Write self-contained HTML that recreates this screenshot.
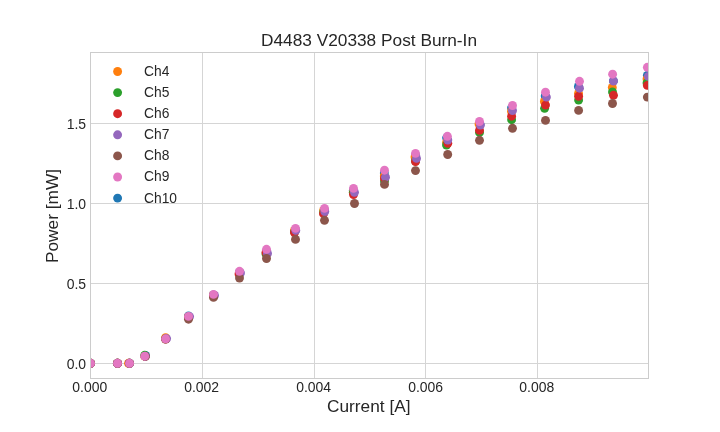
<!DOCTYPE html>
<html><head><meta charset="utf-8"><style>
html,body{margin:0;padding:0;background:#fff;width:720px;height:432px;overflow:hidden}
svg{display:block;will-change:transform}
text{font-family:"Liberation Sans",sans-serif;fill:#262626}
.t14{font-size:14.4px}
.t17{font-size:17.28px}
</style></head><body>
<svg width="720" height="432" viewBox="0 0 720 432">
<defs><clipPath id="c"><rect x="90.5" y="52.5" width="558" height="326"/></clipPath></defs>
<path d="M202.5 52.5V378.5M314.5 52.5V378.5M425.5 52.5V378.5M537.5 52.5V378.5M90.5 363.5H648.5M90.5 283.5H648.5M90.5 203.5H648.5M90.5 123.5H648.5" stroke="#d5d5d5" stroke-width="1" fill="none"/>
<g clip-path="url(#c)">
<g fill="#1f77b4"><circle cx="90.5" cy="363.3" r="4.45"/><circle cx="117.5" cy="363.3" r="4.45"/><circle cx="129.5" cy="363.3" r="4.45"/><circle cx="145.5" cy="355.5" r="4.45"/><circle cx="165.6" cy="338.6" r="4.45"/><circle cx="188.5" cy="316" r="4.45"/><circle cx="213.5" cy="295" r="4.45"/><circle cx="239.5" cy="272.5" r="4.45"/><circle cx="266.5" cy="251" r="4.45"/><circle cx="295.5" cy="230" r="4.45"/><circle cx="324.5" cy="210" r="4.45"/><circle cx="353.3" cy="190.4" r="4.45"/><circle cx="384.3" cy="173" r="4.45"/><circle cx="415.5" cy="155" r="4.45"/><circle cx="446.6" cy="137.8" r="4.45"/><circle cx="480" cy="124.2" r="4.45"/><circle cx="511.5" cy="108" r="4.45"/><circle cx="545.2" cy="96" r="4.45"/><circle cx="578.4" cy="86.5" r="4.45"/><circle cx="613.4" cy="80.9" r="4.45"/><circle cx="647.35" cy="75.5" r="4.45"/></g>
<g fill="#ff7f0e"><circle cx="90.5" cy="363.3" r="4.45"/><circle cx="117.5" cy="363.3" r="4.45"/><circle cx="128.5" cy="363.3" r="4.45"/><circle cx="144.7" cy="356.2" r="4.45"/><circle cx="165.6" cy="337.7" r="4.45"/><circle cx="188.5" cy="317" r="4.45"/><circle cx="213.5" cy="295.5" r="4.45"/><circle cx="239.5" cy="273" r="4.45"/><circle cx="266.5" cy="252" r="4.45"/><circle cx="294.5" cy="230.5" r="4.45"/><circle cx="323.6" cy="210.5" r="4.45"/><circle cx="353.3" cy="192" r="4.45"/><circle cx="384.3" cy="176" r="4.45"/><circle cx="415" cy="157" r="4.45"/><circle cx="446.6" cy="142.2" r="4.45"/><circle cx="479" cy="124" r="4.45"/><circle cx="511.5" cy="111.5" r="4.45"/><circle cx="544.4" cy="101.5" r="4.45"/><circle cx="578.5" cy="93.5" r="4.45"/><circle cx="612.3" cy="87.4" r="4.45"/><circle cx="647" cy="79" r="4.45"/></g>
<g fill="#2ca02c"><circle cx="90.5" cy="363.3" r="4.45"/><circle cx="117.5" cy="363.3" r="4.45"/><circle cx="129.5" cy="363.3" r="4.45"/><circle cx="144.7" cy="355.3" r="4.45"/><circle cx="165.6" cy="338.8" r="4.45"/><circle cx="188.5" cy="317" r="4.45"/><circle cx="213.5" cy="295.5" r="4.45"/><circle cx="239.5" cy="273.5" r="4.45"/><circle cx="266" cy="254" r="4.45"/><circle cx="294.5" cy="232" r="4.45"/><circle cx="323.6" cy="212.5" r="4.45"/><circle cx="353.3" cy="192.4" r="4.45"/><circle cx="384.5" cy="181" r="4.45"/><circle cx="415.5" cy="161" r="4.45"/><circle cx="446.5" cy="145" r="4.45"/><circle cx="479.5" cy="132.4" r="4.45"/><circle cx="511.6" cy="119.7" r="4.45"/><circle cx="544.6" cy="108.3" r="4.45"/><circle cx="578.6" cy="100.1" r="4.45"/><circle cx="612.5" cy="91.9" r="4.45"/><circle cx="647" cy="83" r="4.45"/></g>
<g fill="#d62728"><circle cx="90.5" cy="363.3" r="4.45"/><circle cx="117.5" cy="363.3" r="4.45"/><circle cx="129.5" cy="363.3" r="4.45"/><circle cx="145.2" cy="356.4" r="4.45"/><circle cx="165.6" cy="339" r="4.45"/><circle cx="188.5" cy="317.5" r="4.45"/><circle cx="213.5" cy="296" r="4.45"/><circle cx="239" cy="274" r="4.45"/><circle cx="266" cy="252.5" r="4.45"/><circle cx="294.5" cy="232.5" r="4.45"/><circle cx="323.5" cy="213.7" r="4.45"/><circle cx="353.5" cy="194.5" r="4.45"/><circle cx="384.5" cy="178.5" r="4.45"/><circle cx="415.5" cy="161.5" r="4.45"/><circle cx="447.8" cy="143.3" r="4.45"/><circle cx="479.5" cy="130.4" r="4.45"/><circle cx="511.6" cy="116.2" r="4.45"/><circle cx="545.5" cy="105.1" r="4.45"/><circle cx="578.6" cy="96.3" r="4.45"/><circle cx="613.5" cy="95.3" r="4.45"/><circle cx="647.35" cy="85.4" r="4.45"/></g>
<g fill="#9467bd"><circle cx="90.5" cy="363.3" r="4.45"/><circle cx="117.5" cy="363.3" r="4.45"/><circle cx="129.5" cy="363.3" r="4.45"/><circle cx="145.2" cy="356.3" r="4.45"/><circle cx="166.6" cy="338.6" r="4.45"/><circle cx="189.6" cy="316.6" r="4.45"/><circle cx="214.5" cy="295.5" r="4.45"/><circle cx="240.5" cy="273" r="4.45"/><circle cx="267.5" cy="253.5" r="4.45"/><circle cx="295.8" cy="230.4" r="4.45"/><circle cx="324.8" cy="211.5" r="4.45"/><circle cx="354.5" cy="192.3" r="4.45"/><circle cx="385.5" cy="177.2" r="4.45"/><circle cx="416.5" cy="158.4" r="4.45"/><circle cx="447.8" cy="140" r="4.45"/><circle cx="480.4" cy="125.1" r="4.45"/><circle cx="512.5" cy="110.5" r="4.45"/><circle cx="546.4" cy="97.1" r="4.45"/><circle cx="579.5" cy="88.2" r="4.45"/><circle cx="613.5" cy="81" r="4.45"/><circle cx="648.4" cy="76.4" r="4.45"/></g>
<g fill="#8c564b"><circle cx="90.5" cy="363.3" r="4.45"/><circle cx="117.5" cy="363.3" r="4.45"/><circle cx="129.5" cy="363.3" r="4.45"/><circle cx="145.2" cy="356.4" r="4.45"/><circle cx="165.6" cy="339.1" r="4.45"/><circle cx="188.5" cy="319.2" r="4.45"/><circle cx="213.5" cy="297.4" r="4.45"/><circle cx="239.5" cy="278" r="4.45"/><circle cx="266.5" cy="258.5" r="4.45"/><circle cx="295.5" cy="239.4" r="4.45"/><circle cx="324.5" cy="220.3" r="4.45"/><circle cx="354.5" cy="203.5" r="4.45"/><circle cx="384.5" cy="184.4" r="4.45"/><circle cx="415.5" cy="170.6" r="4.45"/><circle cx="447.7" cy="154.5" r="4.45"/><circle cx="479.5" cy="140.3" r="4.45"/><circle cx="512.5" cy="128.3" r="4.45"/><circle cx="545.5" cy="120.4" r="4.45"/><circle cx="578.6" cy="110.4" r="4.45"/><circle cx="612.5" cy="103.5" r="4.45"/><circle cx="647.35" cy="97.1" r="4.45"/></g>
<g fill="#e377c2"><circle cx="90.5" cy="363.3" r="4.45"/><circle cx="117.5" cy="363.3" r="4.45"/><circle cx="129.5" cy="363.3" r="4.45"/><circle cx="144.7" cy="356.2" r="4.45"/><circle cx="165.6" cy="338.8" r="4.45"/><circle cx="188.5" cy="316.4" r="4.45"/><circle cx="213.5" cy="294.4" r="4.45"/><circle cx="239.5" cy="271.3" r="4.45"/><circle cx="266.5" cy="249.3" r="4.45"/><circle cx="295.5" cy="228.4" r="4.45"/><circle cx="324.5" cy="208.4" r="4.45"/><circle cx="353.5" cy="188.4" r="4.45"/><circle cx="384.5" cy="170.2" r="4.45"/><circle cx="415.5" cy="153.4" r="4.45"/><circle cx="447.4" cy="136.3" r="4.45"/><circle cx="479.5" cy="121.5" r="4.45"/><circle cx="512.5" cy="105.5" r="4.45"/><circle cx="545.5" cy="92.2" r="4.45"/><circle cx="579.5" cy="81.3" r="4.45"/><circle cx="612.6" cy="74.2" r="4.45"/><circle cx="647.35" cy="67.3" r="4.45"/></g>
</g>
<rect x="90.5" y="52.5" width="558" height="326" fill="none" stroke="#cccccc" stroke-width="1"/>
<circle cx="117.6" cy="71.5" r="4.45" fill="#ff7f0e"/>
<circle cx="117.6" cy="92.6" r="4.45" fill="#2ca02c"/>
<circle cx="117.6" cy="113.7" r="4.45" fill="#d62728"/>
<circle cx="117.6" cy="134.8" r="4.45" fill="#9467bd"/>
<circle cx="117.6" cy="155.9" r="4.45" fill="#8c564b"/>
<circle cx="117.6" cy="177" r="4.45" fill="#e377c2"/>
<circle cx="117.6" cy="198.1" r="4.45" fill="#1f77b4"/>
<text transform="translate(144 75.95) scale(0.96 1.05)" class="t14">Ch4</text>
<text transform="translate(144 97.05) scale(0.96 1.05)" class="t14">Ch5</text>
<text transform="translate(144 118.15) scale(0.96 1.05)" class="t14">Ch6</text>
<text transform="translate(144 139.25) scale(0.96 1.05)" class="t14">Ch7</text>
<text transform="translate(144 160.35) scale(0.96 1.05)" class="t14">Ch8</text>
<text transform="translate(144 181.45) scale(0.96 1.05)" class="t14">Ch9</text>
<text transform="translate(144 202.55) scale(0.96 1.05)" class="t14">Ch10</text>
<text transform="translate(89.7 391.9) scale(0.97 1.07)" class="t14" text-anchor="middle">0.000</text>
<text transform="translate(201.6 391.9) scale(0.97 1.07)" class="t14" text-anchor="middle">0.002</text>
<text transform="translate(313.65 391.9) scale(0.97 1.07)" class="t14" text-anchor="middle">0.004</text>
<text transform="translate(425.6 391.9) scale(0.97 1.07)" class="t14" text-anchor="middle">0.006</text>
<text transform="translate(536.7 391.9) scale(0.97 1.07)" class="t14" text-anchor="middle">0.008</text>
<text transform="translate(86.1 368.8) scale(0.97 1.04)" class="t14" text-anchor="end">0.0</text>
<text transform="translate(86.1 288.8) scale(0.97 1.04)" class="t14" text-anchor="end">0.5</text>
<text transform="translate(86.1 208.8) scale(0.97 1.04)" class="t14" text-anchor="end">1.0</text>
<text transform="translate(86.1 128.8) scale(0.97 1.04)" class="t14" text-anchor="end">1.5</text>
<text transform="translate(368.8 412) scale(1.0 0.97)" class="t17" text-anchor="middle">Current [A]</text>
<text transform="translate(58 216) rotate(-90)" class="t17" text-anchor="middle">Power [mW]</text>
<text transform="translate(369 46) scale(1.0 0.97)" class="t17" text-anchor="middle">D4483 V20338 Post Burn-In</text>
</svg>
</body></html>
